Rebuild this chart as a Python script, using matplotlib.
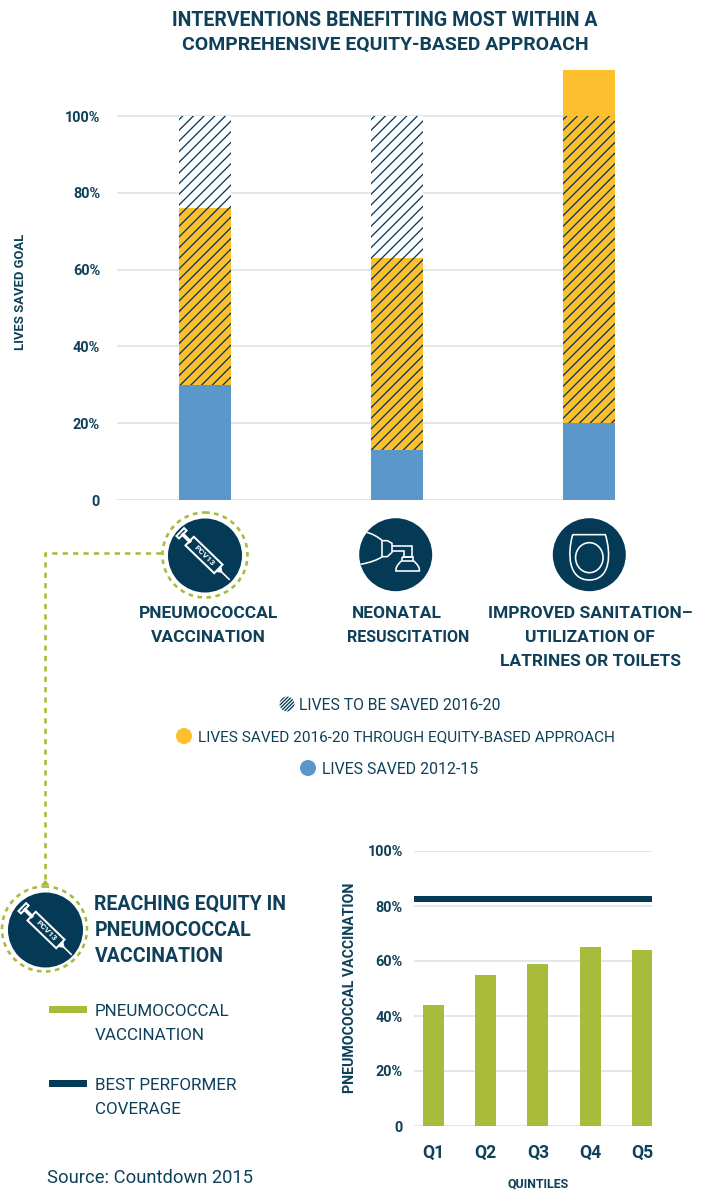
import numpy as np
import matplotlib
matplotlib.use("Agg")
import matplotlib.pyplot as plt
from matplotlib.patches import Circle, Ellipse, PathPatch, Rectangle, Polygon
from matplotlib.path import Path
from matplotlib.transforms import Affine2D

# ---------- data ----------
categories = ["PNEUMOCOCCAL\nVACCINATION", "NEONATAL\nRESUSCITATION",
              "IMPROVED SANITATION\u2013\nUTILIZATION OF\nLATRINES OR TOILETS"]
saved_2012_15 = [30, 13, 20]
equity_hatched = [46, 50, 80]
equity_solid = [0, 0, 12]
to_be_saved = [24, 37, 0]
top_ticks = [0, 20, 40, 60, 80, 100]
top_ticklabels = ["0", "20%", "40%", "60%", "80%", "100%"]
quintiles = ["Q1", "Q2", "Q3", "Q4", "Q5"]
vaccination = [44, 55, 59, 65, 64]
best_performer = 82.5
bottom_ticks = [0, 20, 40, 60, 80, 100]
bottom_ticklabels = ["0", "20%", "40%", "60%", "80%", "100%"]

NAVY = "#043a56"
TEXT = "#0f4059"
YELLOW = "#fdbf2d"
BLUE = "#5b97cb"
GREEN = "#a9bb3b"
GRID = "#d8e3e8"
W, H, DPI = 703, 1191, 64
P = 72 / DPI  # points per pixel

plt.rcParams["font.family"] = ["Roboto", "DejaVu Sans"]
plt.rcParams["hatch.linewidth"] = 1.3 * P
fig = plt.figure(figsize=(W / DPI, H / DPI), dpi=DPI, facecolor="white")


def axes_px(x0, y0, x1, y1, **kw):
    return fig.add_axes([x0 / W, 1 - y1 / H, (x1 - x0) / W, (y1 - y0) / H], **kw)


# ---------- top chart ----------
ax = axes_px(117, 69, 615, 500)
x = np.arange(3)
bw = 52 / 192
s1, s2, s3 = np.array(saved_2012_15), np.array(equity_hatched), np.array(to_be_saved)
ax.bar(x, s1, bw, color=BLUE, zorder=3)
ax.bar(x, s2, bw, bottom=s1, color=YELLOW, edgecolor=NAVY, linewidth=0, hatch="//", zorder=3)
ax.bar(x, s3, bw, bottom=s1 + s2, color="white", edgecolor=NAVY, linewidth=0, hatch="//", zorder=3)
ax.bar(x, equity_solid, bw, bottom=s1 + s2 + s3, color=YELLOW, zorder=3)
ax.set_xlim(-88 / 192, 410 / 192)
ax.set_ylim(0, 431 / 3.84)
ax.set_xticks([])
ax.set_yticks(top_ticks, top_ticklabels, fontsize=14.5 * P, fontweight="bold", color=TEXT)
for lab in ax.get_yticklabels():
    lab.set_y(lab.get_position()[1])
ax.tick_params(axis="y", length=0, pad=17 * P)
ax.grid(axis="y", color=GRID, lw=1.6 * P, zorder=0)
ax.set_axisbelow(True)
for s in ax.spines.values():
    s.set_visible(False)
ax.patch.set_alpha(0)

# ---------- bottom chart ----------
bx = axes_px(414, 851, 652, 1126)
xb = np.arange(5)
bx.bar(xb, vaccination, 21 / 52.2, color=GREEN, zorder=3)
bx.axhline(best_performer, color=NAVY, lw=6 * P, zorder=4, solid_capstyle="butt")
bx.set_xlim(-19.5 / 52.2, 218.5 / 52.2)
bx.set_ylim(0, 100)
bx.set_xticks(xb, quintiles, fontsize=17.5 * P, fontweight="bold", color=TEXT)
bx.set_yticks(bottom_ticks, bottom_ticklabels, fontsize=14.5 * P, fontweight="bold", color=TEXT)
bx.tick_params(axis="x", length=0, pad=18 * P)
bx.tick_params(axis="y", length=0, pad=11 * P)
bx.grid(axis="y", color=GRID, lw=1.6 * P, zorder=0)
bx.set_axisbelow(True)
for s in bx.spines.values():
    s.set_visible(False)

# ---------- overlay in pixel coordinates ----------
ov = fig.add_axes([0, 0, 1, 1], zorder=5)
ov.set_xlim(0, W)
ov.set_ylim(H, 0)
ov.axis("off")


def T(x, y, s, size, bold=False, ha="center", va="center", **kw):
    return ov.text(x, y, s, fontsize=size * P, fontweight="bold" if bold else "normal",
                   color=kw.pop("color", TEXT), ha=ha, va=va, **kw)


T(385, 20, "INTERVENTIONS BENEFITTING MOST WITHIN A", 19.5, True)
T(385, 45, "COMPREHENSIVE EQUITY-BASED APPROACH", 19.4, True)
T(20.5, 292, "LIVES SAVED GOAL", 13, True, rotation=90)

cat_lines = [c.split("\n") for c in categories]
cat_x = [[208.5, 208.5], [397, 408], [590, 590, 590]]
cat_size = [[17.4, 17.4], [17.4, 16], [17.4, 17.4, 17.4]]
for xs, sizes, lines in zip(cat_x, cat_size, cat_lines):
    for i, (cx, sz, line) in enumerate(zip(xs, sizes, lines)):
        T(cx, 614 + i * 24, line, sz, True)

# legend
T(299, 705, "LIVES TO BE SAVED 2016-20", 15.7, ha="left")
T(198, 737, "LIVES SAVED 2016-20 THROUGH EQUITY-BASED APPROACH", 15.4, ha="left")
T(322, 769.5, "LIVES SAVED 2012-15", 15.9, ha="left")
ov.add_patch(Circle((287, 704), 7.5, facecolor="white", edgecolor=NAVY, lw=0, hatch="//////"))
ov.add_patch(Circle((184, 736), 8, color=YELLOW, lw=0))
ov.add_patch(Circle((308, 768), 8, color=BLUE, lw=0))

# lower left block
for i, line in enumerate(["REACHING EQUITY IN", "PNEUMOCOCCAL", "VACCINATION"]):
    T(94.5, 904.5 + i * 26, line, 19.5, True, ha="left")
ov.add_patch(Rectangle((49, 1006), 38, 7, color=GREEN, lw=0))
ov.add_patch(Rectangle((49, 1080), 38, 7, color=NAVY, lw=0))
T(95, 1011, "PNEUMOCOCCAL", 17, ha="left")
T(95, 1035.5, "VACCINATION", 17, ha="left")
T(95, 1085, "BEST PERFORMER", 17, ha="left")
T(95, 1109.5, "COVERAGE", 17, ha="left")
T(47, 1178, "Source: Countdown 2015", 18.4, ha="left")
T(350, 988, "PNEUMOCOCCAL VACCINATION", 14.1, True, rotation=90)
T(538, 1183.5, "QUINTILES", 12.4, True)

# connector
ov.plot([161, 45, 45], [553, 553, 884], color=GREEN, lw=2.6 * P, dashes=(2.0, 2.0), zorder=1)
ov.add_patch(Polygon([[41, 885], [49.5, 885], [45.3, 880]], color=GREEN, lw=0))


def syringe(cx, cy):
    """White syringe glyph, drawn along its own axis and turned 45 degrees."""
    tr = Affine2D().rotate_deg(44).translate(cx, cy) + ov.transData
    kw = dict(fill=False, edgecolor="white", lw=2.0 * P, transform=tr, zorder=7)
    ov.add_patch(Rectangle((-20, -6), 40, 12, **kw))
    ov.add_patch(Rectangle((-33, -5.5), 3.5, 11, **kw))
    ov.plot([-29, -20], [0, 0], color="white", lw=3.6 * P, transform=tr, zorder=7)
    ov.add_patch(Polygon([[20, -3.5], [25, 0], [20, 3.5]], facecolor="white", edgecolor="white",
                         lw=P, transform=tr, zorder=7))
    ov.plot([25, 35], [0, 0], color="white", lw=1.6 * P, transform=tr, zorder=7)
    ov.text(cx, cy, "PCV13", color="white", fontsize=8.4 * P, fontweight="bold",
            rotation=-45, ha="center", va="center", rotation_mode="anchor", zorder=7)


# icons: circles
ov.add_patch(Circle((205, 555.5), 37, color=NAVY, lw=0, zorder=6))
ov.add_patch(Circle((205, 555), 42.5, fill=False, edgecolor=GREEN, lw=2.6 * P,
                    linestyle=(0, (1.8, 1.7)), zorder=6))
syringe(204, 555)
ov.add_patch(Circle((45.5, 930), 37.5, color=NAVY, lw=0, zorder=6))
ov.add_patch(Circle((44.5, 929), 42.5, fill=False, edgecolor=GREEN, lw=2.6 * P,
                    linestyle=(0, (1.8, 1.7)), zorder=6))
syringe(46, 930)

# resuscitator
ov.add_patch(Circle((395.7, 554.7), 36.5, color=NAVY, lw=0, zorder=6))
Z = lambda pts: [(130 + a / 3, 500 + b / 3) for a, b in pts]
wk = dict(fill=False, edgecolor="white", lw=1.6 * P, zorder=7)
ov.add_patch(PathPatch(Path(Z([(710, 97), (735, 103), (757, 122), (772, 122), (786, 130), (786, 157),
                               (772, 170), (757, 170), (735, 185), (692, 193)]),
                            [Path.MOVETO, Path.CURVE3, Path.CURVE3, Path.LINETO, Path.LINETO,
                             Path.LINETO, Path.LINETO, Path.LINETO, Path.CURVE3, Path.CURVE3]), **wk))
ov.add_patch(PathPatch(Path(Z([(757, 122), (757, 170)])), **wk))
ov.add_patch(PathPatch(Path(Z([(786, 137), (847, 137), (847, 170), (822, 170), (822, 152), (786, 152)])), **wk))
ov.add_patch(PathPatch(Path(Z([(815, 170), (850, 170), (850, 182), (815, 182), (815, 170)])), **wk))
ov.add_patch(PathPatch(Path(Z([(815, 182), (795, 200), (798, 213), (868, 213), (871, 200), (850, 182)]),
                            [Path.MOVETO, Path.CURVE3, Path.CURVE3, Path.LINETO, Path.CURVE3, Path.CURVE3]), **wk))

# toilet seat
ov.add_patch(Circle((589.3, 554.7), 36.5, color=NAVY, lw=0, zorder=6))
ov.add_patch(PathPatch(Path(Z([(1328, 104), (1426, 104), (1444, 160), (1442, 240), (1378, 240),
                               (1314, 240), (1312, 160), (1328, 104)]),
                            [Path.MOVETO, Path.LINETO, Path.CURVE4, Path.CURVE4, Path.CURVE4,
                             Path.CURVE4, Path.CURVE4, Path.CURVE4]), **wk))
cx_, cy_ = Z([(1378, 173)])[0]
ov.add_patch(Ellipse((cx_, cy_), 27.5, 30, **wk))

fig.savefig("out.png", dpi=DPI, facecolor="white")
